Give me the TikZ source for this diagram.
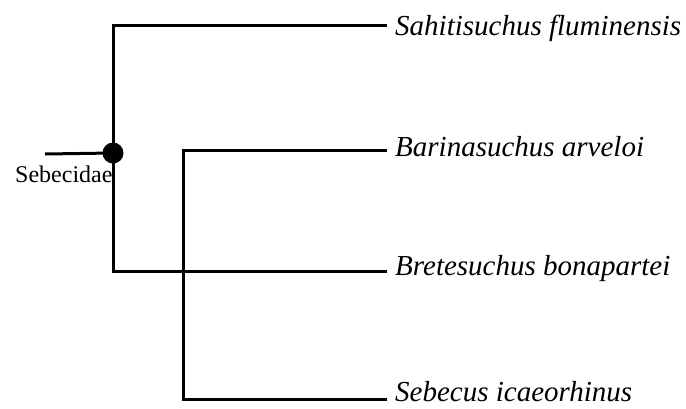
\documentclass[tikz,border=0pt]{standalone}
\usepackage{fontspec}
\setmainfont{Liberation Serif}
\begin{document}
\begin{tikzpicture}[x=1pt,y=-1pt,
  branch/.style={line width=3pt, line join=miter, line cap=butt},
  taxon/.style={anchor=base west, inner sep=0pt, font=\fontsize{29}{34}\selectfont\itshape},
  cladelabel/.style={anchor=base west, inner sep=0pt, font=\fontsize{24}{28}\selectfont},
  knot/.style={circle, fill=black, inner sep=0pt, minimum size=21pt}]
  \useasboundingbox (0,0) rectangle (686,408);

  % internal nodes and stem
  \coordinate (stem) at (45,154);
  \coordinate (k1) at (113,153);
  \coordinate (k2) at (183,275);

  % branch tips
  \coordinate (t1) at (387,25);
  \coordinate (t2) at (387,150);
  \coordinate (t3) at (387,271);
  \coordinate (t4) at (387,399);

  % branches
  \draw[branch] (stem) -- (k1);
  \draw[branch] (t1) -| (k1) |- (t3);
  \draw[branch] (t2) -| (k2) |- (t4);

  % node marker for the named clade
  \node[knot] (dot) at (k1) {};
  \node[cladelabel] (sebecidae) at (15,182) {Sebecidae};

  % terminal taxa
  \node[taxon] (sahi) at (395,35) {Sahitisuchus fluminensis};
  \node[taxon] (bari) at (395,156) {Barinasuchus arveloi};
  \node[taxon] (bret) at (395,275) {Bretesuchus bonapartei};
  \node[taxon] (sebe) at (395,401) {Sebecus icaeorhinus};
\end{tikzpicture}
\end{document}
